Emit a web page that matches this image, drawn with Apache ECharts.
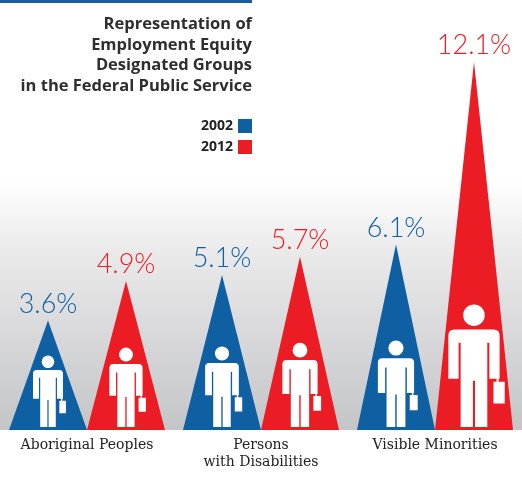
<!DOCTYPE html>
<html>
<head>
<meta charset="utf-8">
<script src="https://cdn.jsdelivr.net/npm/echarts@6/dist/echarts.min.js"></script>
<style>
html,body{margin:0;padding:0;background:#fff;}
#c{width:522px;height:480px;}
</style>
</head>
<body>
<div id="c"></div>
<script>
// ---- data ----
const categories = ['Aboriginal Peoples', 'Persons\nwith Disabilities', 'Visible Minorities'];
const years = ['2002', '2012'];
const values2002 = [3.6, 5.1, 6.1];
const values2012 = [4.9, 5.7, 12.1];
const titleLines = ['Representation of', 'Employment Equity', 'Designated Groups', 'in the Federal Public Service'];

const BLUE = '#0f5fa3';
const RED = '#ec1c24';
const PERSON = 'path://M12,50 L88,50 Q100,50 100,62 L100,146 L80,146 L80,76 L76,76 L76,240 L52,240 L52,150 L48,150 L48,240 L24,240 L24,76 L20,76 L20,146 L0,146 L0,62 Q0,50 12,50 Z ' +
  'M29,22 A21,21 0 1 1 71,22 A21,21 0 1 1 29,22 Z ' +
  'M94,146 L98,146 L98,152 L94,152 Z M88,152 L110,152 L110,194 L88,194 Z';

function figData(vals) {
  return vals.map(v => {
    const h = 50 + 6 * v;
    return { value: v, symbolSize: [h * 0.46, h] };
  });
}

const chart = echarts.init(document.getElementById('c'), null, { renderer: 'canvas' });
const labelFont = { fontFamily: 'Lato', fontWeight: 300, fontSize: 27 };
const option = {
  backgroundColor: '#fff',
  animation: false,
  legend: {
    data: years,
    orient: 'vertical',
    right: 270,
    top: 119,
    padding: 0,
    align: 'right',
    icon: 'rect',
    itemWidth: 14,
    itemHeight: 14,
    itemGap: 7,
    textStyle: { fontFamily: 'Open Sans', fontWeight: 'bold', fontSize: 14, color: '#222' }
  },
  graphic: [
    { type: 'rect', z: -10, shape: { x: 0, y: 0, width: 252, height: 3 }, style: { fill: '#1a5ea0' } },
    {
      type: 'rect', z: -10, shape: { x: 0, y: 180, width: 522, height: 250 },
      style: {
        fill: new echarts.graphic.LinearGradient(0, 0, 0, 1, [
          { offset: 0, color: '#ffffff' },
          { offset: 0.3, color: '#e9e9ea' },
          { offset: 1, color: '#c4c5c7' }
        ])
      }
    },
    {
      type: 'text', z: 10, x: 252, y: 14,
      style: {
        text: titleLines.join('\n'), align: 'right', verticalAlign: 'top',
        fontFamily: 'Open Sans', fontWeight: 'bold', fontSize: 16.5, lineHeight: 20.7, fill: '#2e2e2e'
      }
    }
  ],
  grid: { left: 0, right: 0, top: 62, bottom: 50 },
  xAxis: [
    {
      type: 'category', data: categories,
      axisLine: { show: false }, axisTick: { show: false },
      axisLabel: { fontFamily: 'DejaVu Serif', fontSize: 14, color: '#222', margin: 7, lineHeight: 17 }
    },
    { type: 'category', data: categories, show: false }
  ],
  yAxis: { type: 'value', min: 0, max: Math.max(...values2012, ...values2002), show: false, splitLine: { show: false } },
  series: [
    {
      name: years[0], type: 'pictorialBar', xAxisIndex: 0, symbol: 'triangle',
      barWidth: 78, barGap: '0%', z: 2,
      itemStyle: { color: BLUE }, data: values2002,
      label: { show: true, position: 'top', distance: 3, formatter: '{c}%', color: BLUE, ...labelFont }
    },
    {
      name: years[1], type: 'pictorialBar', xAxisIndex: 0, symbol: 'triangle',
      barWidth: 78, barGap: '0%', z: 2,
      itemStyle: { color: RED }, data: values2012,
      label: { show: true, position: 'top', distance: 3, formatter: '{c}%', color: RED, ...labelFont }
    },
    {
      name: 'fig' + years[0], type: 'pictorialBar', xAxisIndex: 1, symbol: PERSON,
      symbolPosition: 'start', symbolOffset: ['4.5%', -3], barWidth: 78, barGap: '0%', z: 3,
      itemStyle: { color: '#fff' }, data: figData(values2002), silent: true
    },
    {
      name: 'fig' + years[1], type: 'pictorialBar', xAxisIndex: 1, symbol: PERSON,
      symbolPosition: 'start', symbolOffset: ['4.5%', -3], barWidth: 78, barGap: '0%', z: 3,
      itemStyle: { color: '#fff' }, data: figData(values2012), silent: true
    }
  ]
};
chart.setOption(option);
</script>
</body>
</html>
